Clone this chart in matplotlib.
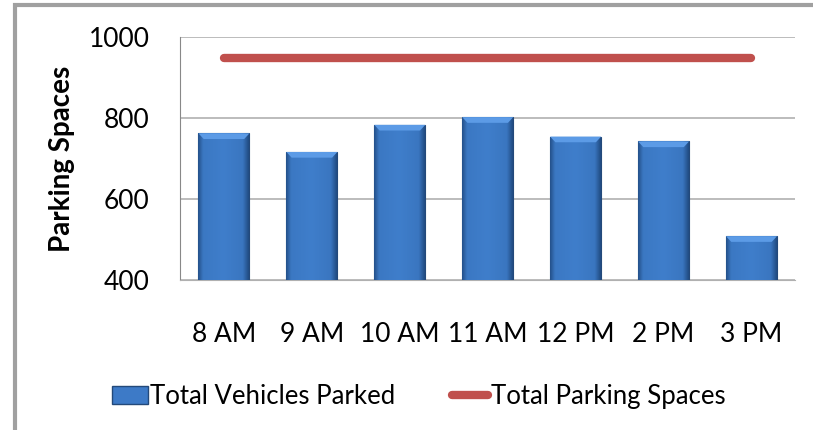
import numpy as np
import matplotlib.pyplot as plt
from matplotlib.patches import Rectangle, Polygon
from matplotlib.lines import Line2D
from matplotlib.colors import LinearSegmentedColormap

hours = ["8 AM", "9 AM", "10 AM", "11 AM", "12 PM", "2 PM", "3 PM"]
vehicles_parked = [762, 716, 783, 802, 754, 742, 508]
total_spaces = [948, 948, 948, 948, 948, 948, 948]

plt.rcParams['font.family'] = ['Lato', 'DejaVu Sans']

fig = plt.figure(figsize=(8.13, 4.30), dpi=100)
ax = fig.add_axes([0.2214, 0.349, 0.757, 0.565])

x = np.arange(len(hours))
bars = ax.bar(x, vehicles_parked, width=0.58, color='#3D7AC7',
              edgecolor='#23497A', linewidth=0.8, zorder=3)

# office-style bevel: flat body, darker bands at both side edges
bevel = LinearSegmentedColormap.from_list('bev', [
    (0.0, '#234F88'), (0.1, '#3B78C3'), (0.5, '#3F7ECB'),
    (0.88, '#3A76C0'), (1.0, '#204A80')])
img = np.tile(np.linspace(0, 1, 256), (2, 1))
for b in bars:
    x0, w, top = b.get_x(), b.get_width(), b.get_height()
    im = ax.imshow(img, cmap=bevel, aspect='auto',
                   extent=[x0, x0 + w, 400, top],
                   zorder=3.5, interpolation='bicubic')
    im.set_clip_path(b)
    # lighter chamfer along the top edge
    ax.add_patch(Polygon([(x0, top), (x0 + w, top), (x0 + w - 0.06, top - 14),
                          (x0 + 0.06, top - 14)], closed=True,
                         facecolor='#5C9BE6', edgecolor='none', zorder=3.6))

ax.plot(x, total_spaces, color='#C0504D', lw=6, solid_capstyle='round', zorder=4)

ax.set_xlim(-0.5, len(hours) - 0.5)
ax.set_ylim(400, 1000)
ax.set_yticks([400, 600, 800, 1000])
ax.set_xticks(x)
ax.set_xticklabels(hours)
ax.tick_params(axis='both', length=0, labelsize=19)
ax.tick_params(axis='x', pad=30)
ax.tick_params(axis='y', pad=22)
ax.grid(True, axis='y', color='#B0B0B0', lw=1.2, zorder=0)
for s in ['top', 'right']:
    ax.spines[s].set_visible(False)
ax.spines['left'].set_color('#888888')
ax.spines['bottom'].set_color('#B0B0B0')
ax.set_ylabel("Parking Spaces", fontsize=20, fontweight='bold', labelpad=10)

handles = [Rectangle((0, 0), 1, 1, facecolor='#3D7AC7', edgecolor='#23497A'),
           Line2D([0], [0], color='#C0504D', lw=6, solid_capstyle='round')]
fig.legend(handles, ["Total Vehicles Parked", "Total Parking Spaces"],
           loc='center', bbox_to_anchor=(0.515, 0.078), ncol=2, frameon=False,
           fontsize=18.5, handlelength=1.4, handletextpad=0.1, columnspacing=2.2)

# outer chart frame (only left and top edges visible in the crop)
fig.patches.append(Rectangle((15 / 813, -0.1), 1.2, 1 - 5 / 430 + 0.1,
                             transform=fig.transFigure, fill=False,
                             edgecolor='#A0A0A0', lw=3))

fig.savefig("out.png", dpi=100, facecolor='white')
